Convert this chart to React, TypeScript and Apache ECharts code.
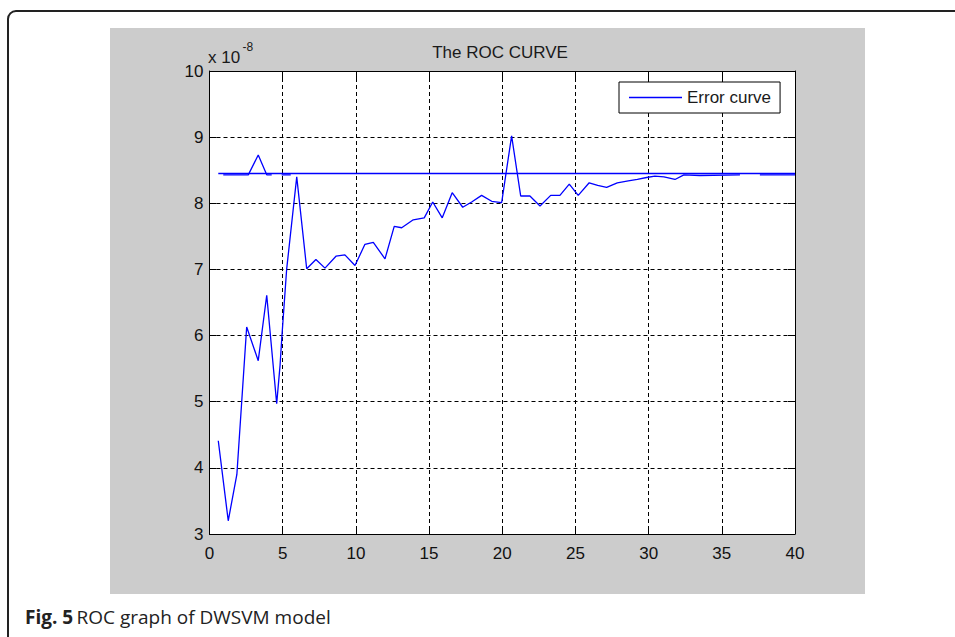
import React, { useEffect, useRef } from "react";
import * as echarts from "echarts";

// Main "Error curve" samples (x, value in units of 1e-8)
const curveX = [0.6, 1.28, 1.87, 2.54, 3.33, 3.91, 4.59, 4.82, 4.95, 5.27, 5.96, 6.64, 7.27, 7.89, 8.64, 9.25, 9.94, 10.62, 11.19, 11.99, 12.62, 13.13, 13.92, 14.67, 15.25, 15.9, 16.58, 17.3, 17.91, 18.59, 19.28, 19.96, 20.64, 21.26, 21.89, 22.58, 23.31, 23.94, 24.58, 25.19, 25.94, 26.52, 27.13, 27.86, 28.61, 29.23, 29.86, 30.43, 31.05, 31.8, 32.41, 33.5, 36.24, 36.9, 37.6, 40.0];
const curveY: (number | null)[] = [4.41, 3.2, 3.9, 6.13, 5.62, 6.61, 4.97, 5.55, 6.0, 7.0, 8.4, 7.01, 7.15, 7.02, 7.2, 7.22, 7.06, 7.38, 7.41, 7.16, 7.65, 7.63, 7.75, 7.78, 8.02, 7.78, 8.16, 7.94, 8.02, 8.12, 8.03, 8.01, 9.02, 8.11, 8.11, 7.96, 8.12, 8.12, 8.29, 8.12, 8.31, 8.27, 8.24, 8.31, 8.34, 8.36, 8.39, 8.41, 8.4, 8.36, 8.43, 8.42, 8.43, null, 8.43, 8.43];

// Upper short segments near the start
const upperX = [0.94, 2.65, 3.33, 3.91, 4.25, 4.6, 4.93, 5.55];
const upperY: (number | null)[] = [8.43, 8.43, 8.73, 8.43, 8.43, null, 8.43, 8.43];

// Constant reference line
const refX = [0.6, 40];
const refY = [8.45, 8.45];

const xTicks = { min: 0, max: 40, interval: 5 };
const yTicks = { min: 3, max: 10, interval: 1 };

const FONT = "'Liberation Sans', Arial, sans-serif";
const BLUE = "#0000ff";

function pairs(xs: number[], ys: (number | null)[]) {
  return xs.map((x, i) => [x, ys[i] === null ? "-" : ys[i]]);
}

export default function App() {
  const ref = useRef<HTMLDivElement>(null);
  useEffect(() => {
    if (!ref.current) return;
    const chart = echarts.init(ref.current, undefined, { renderer: "svg" });
    const tickStyle = { show: true, inside: true, length: 7, lineStyle: { color: "#000", width: 1 } };
    const lineAxis = { show: true, onZero: false, lineStyle: { color: "#000", width: 1 } };
    const split = { show: true, lineStyle: { color: "#000", width: 1, type: [4, 3] as any } };
    chart.setOption({
      animation: false,
      backgroundColor: "#ffffff",
      grid: {
        left: 209.5,
        top: 71,
        width: 585.5,
        height: 463,
        show: true,
        backgroundColor: "#ffffff",
        borderWidth: 0,
      },
      legend: {
        data: [{ name: "Error curve", icon: "rect" }],
        left: 619,
        top: 82,
        itemWidth: 53,
        itemHeight: 1.4,
        itemGap: 5,
        padding: [7, 9, 7, 10],
        borderColor: "#000",
        borderWidth: 1,
        backgroundColor: "#fff",
        itemStyle: { color: BLUE },
        textStyle: { fontSize: 17, color: "#1a1a1a", fontFamily: FONT },
      },
      xAxis: [
        {
          type: "value",
          position: "bottom",
          ...xTicks,
          axisLine: lineAxis,
          axisTick: tickStyle,
          axisLabel: { fontSize: 17, color: "#111", fontFamily: FONT, margin: 11 },
          splitLine: split,
        },
        {
          type: "value",
          position: "top",
          ...xTicks,
          axisLine: lineAxis,
          axisTick: tickStyle,
          axisLabel: { show: false },
          splitLine: { show: false },
        },
      ],
      yAxis: [
        {
          type: "value",
          position: "left",
          ...yTicks,
          axisLine: lineAxis,
          axisTick: tickStyle,
          axisLabel: { fontSize: 17, color: "#111", fontFamily: FONT, margin: 6 },
          splitLine: split,
        },
        {
          type: "value",
          position: "right",
          ...yTicks,
          axisLine: lineAxis,
          axisTick: tickStyle,
          axisLabel: { show: false },
          splitLine: { show: false },
        },
      ],
      series: [
        {
          name: "Error curve",
          type: "line",
          data: pairs(curveX, curveY),
          symbol: "none",
          connectNulls: false,
          lineStyle: { color: BLUE, width: 1.3 },
          itemStyle: { color: BLUE },
          z: 3,
        },
        {
          name: "upper",
          type: "line",
          data: pairs(upperX, upperY),
          symbol: "none",
          connectNulls: false,
          lineStyle: { color: BLUE, width: 1.3 },
          itemStyle: { color: BLUE },
          z: 3,
        },
        {
          name: "reference",
          type: "line",
          data: pairs(refX, refY),
          symbol: "none",
          lineStyle: { color: BLUE, width: 1.3 },
          itemStyle: { color: BLUE },
          z: 3,
        },
      ],
      graphic: [
        {
          type: "rect",
          z: -2,
          silent: true,
          shape: { x: 8, y: 11, width: 1000, height: 700, r: 8 },
          style: { fill: "none", stroke: "#222", lineWidth: 2 },
        },
        {
          type: "rect",
          z: -1,
          silent: true,
          shape: { x: 110, y: 28, width: 755, height: 566 },
          style: { fill: "#cccccc" },
        },
        {
          type: "text",
          x: 500,
          y: 52,
          style: {
            text: "The ROC CURVE",
            fontSize: 17,
            fontFamily: FONT,
            fill: "#1a1a1a",
            textAlign: "center",
            textVerticalAlign: "middle",
          },
        },
        {
          type: "text",
          x: 208,
          y: 57,
          style: {
            text: "x 10",
            fontSize: 17,
            fontFamily: FONT,
            fill: "#1a1a1a",
            textAlign: "left",
            textVerticalAlign: "middle",
          },
        },
        {
          type: "text",
          x: 242.5,
          y: 47,
          style: {
            text: "-8",
            fontSize: 12,
            fontFamily: FONT,
            fill: "#1a1a1a",
            textAlign: "left",
            textVerticalAlign: "middle",
          },
        },
        {
          type: "text",
          x: 25,
          y: 617,
          style: {
            text: "{b|Fig. 5} {r|ROC graph of DWSVM model}",
            textAlign: "left",
            textVerticalAlign: "middle",
            rich: {
              b: { fontSize: 19, fontWeight: "bold", fontFamily: "'Open Sans', sans-serif", fill: "#222" },
              r: { fontSize: 19, fontFamily: "'Open Sans', sans-serif", fill: "#222" },
            },
          },
        },
      ],
    });
    return () => chart.dispose();
  }, []);
  return <div ref={ref} style={{ position: "absolute", left: 0, top: 0, width: 955, height: 637 }} />;
}
